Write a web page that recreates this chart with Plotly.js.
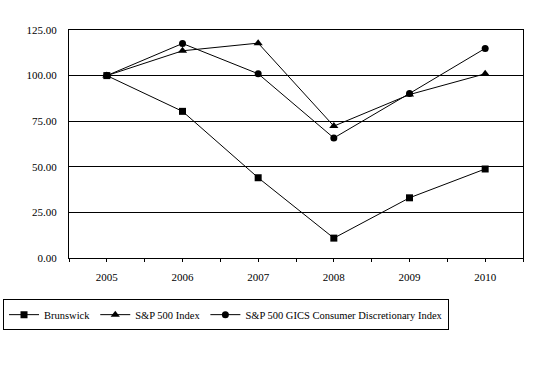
<!DOCTYPE html>
<html>
<head>
<meta charset="utf-8">
<script src="https://cdn.plot.ly/plotly-3.0.1.min.js"></script>
<style>html,body{margin:0;padding:0;background:#fff;}#chart{width:549px;height:388px;}</style>
</head>
<body>
<div id="chart"></div>
<script>
const years = ["2005", "2006", "2007", "2008", "2009", "2010"];
const brunswick = [100, 80.4, 44.0, 10.9, 33.0, 48.8];
const sp500 = [100, 113.6, 117.8, 72.3, 89.6, 101.0];
const gics = [100, 117.6, 101.0, 65.8, 90.2, 114.9];
const yTicks = [0, 25, 50, 75, 100, 125];

const font = {family: "Liberation Serif", size: 11, color: "#000"};
const legendFont = {family: "Liberation Serif", size: 10.5, color: "#000"};
const xIdx = years.map((_, i) => i);

function series(name, vals, symbol, size) {
  return {
    type: "scatter", mode: "lines+markers", name: name,
    x: xIdx, y: vals,
    line: {color: "#000", width: 1},
    marker: {symbol: symbol, size: size, color: "#000"}
  };
}

const data = [
  series("Brunswick", brunswick, "square", 7),
  series("S&P 500 Index", sp500, "triangle-up", 8),
  series("S&P 500 GICS Consumer Discretionary Index", gics, "circle", 7)
];

const layout = {
  width: 549, height: 388,
  margin: {l: 69, r: 26, t: 30, b: 130},
  paper_bgcolor: "#fff", plot_bgcolor: "#fff",
  font: font,
  showlegend: true,
  legend: {
    orientation: "h", xref: "container", yref: "container",
    x: 0.0055, xanchor: "left", y: 0.229, yanchor: "top",
    bordercolor: "#000", borderwidth: 1, font: legendFont,
    itemwidth: 30, tracegroupgap: 0
  },
  xaxis: {
    range: [-0.5, 5.5], tickvals: xIdx, ticktext: years,
    showgrid: false, zeroline: false, automargin: false,
    showline: true, linecolor: "#000", linewidth: 1, mirror: true,
    ticks: "outside", ticklen: 3, tickcolor: "#000",
    ticklabelstandoff: 6,
    minor: {dtick: 0.5, tick0: 0.5, ticks: "outside", ticklen: 3, tickcolor: "#000"},
    tickfont: font
  },
  yaxis: {
    range: [0, 125], tickvals: yTicks, tickformat: ".2f",
    showgrid: true, gridcolor: "#000", gridwidth: 1,
    zeroline: false, automargin: false,
    showline: true, linecolor: "#000", linewidth: 1, mirror: true,
    ticks: "", ticklabelstandoff: 9, tickfont: font
  }
};

Plotly.newPlot("chart", data, layout, {staticPlot: true, displayModeBar: false});
</script>
</body>
</html>
